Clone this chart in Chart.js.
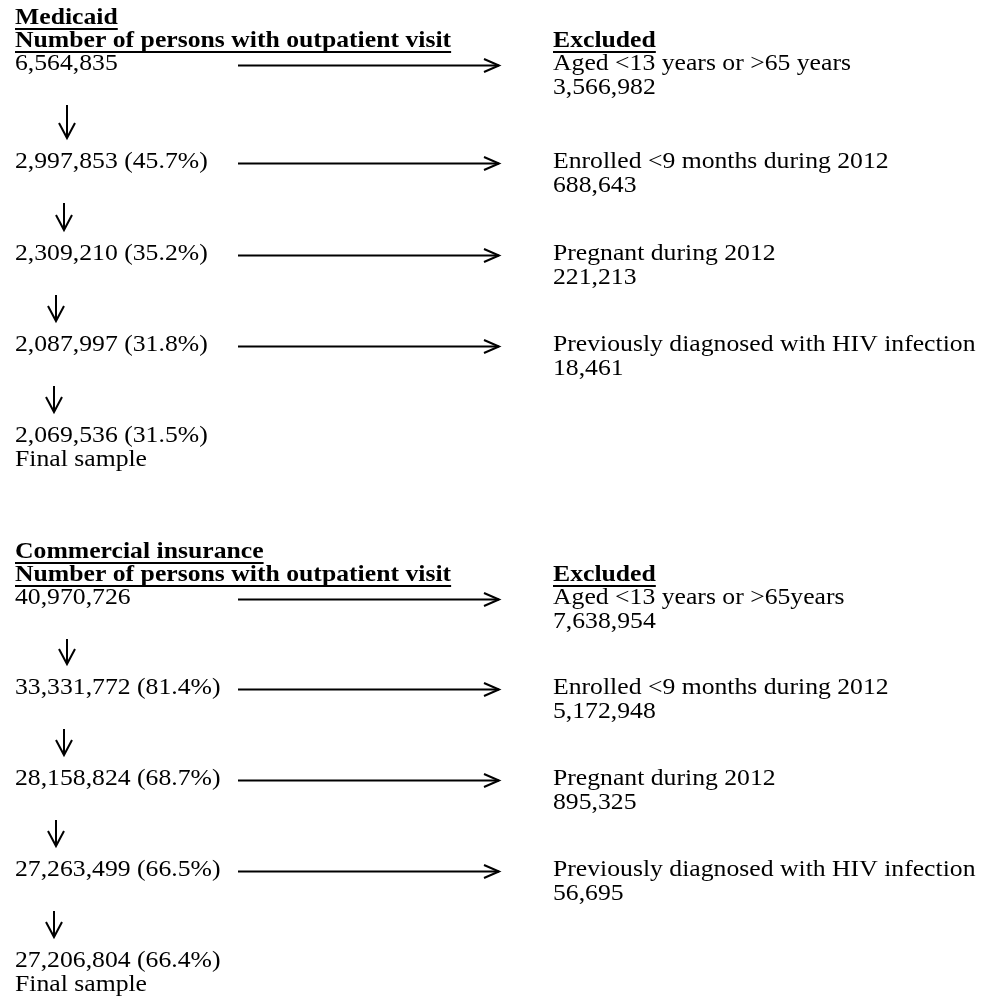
<!DOCTYPE html>
<html>
<head>
<meta charset="utf-8">
<script src="https://cdn.jsdelivr.net/npm/chart.js@4.4.1/dist/chart.umd.min.js"></script>
<style>
  html, body { margin: 0; padding: 0; background: #fff; }
  #wrap { width: 990px; height: 1004px; position: relative; }
</style>
</head>
<body>
<div id="wrap"><canvas id="flow"></canvas></div>
<script>
/************** DATA **************/
const sectionTitles = ["Medicaid", "Commercial insurance"];
const countHeader = "Number of persons with outpatient visit";
const excludedHeader = "Excluded";
const finalLabel = "Final sample";

const medicaidCounts = [6564835, 2997853, 2309210, 2087997, 2069536];
const medicaidPct = [null, 45.7, 35.2, 31.8, 31.5];
const medicaidReasons = [
  "Aged <13 years or >65 years",
  "Enrolled <9 months during 2012",
  "Pregnant during 2012",
  "Previously diagnosed with HIV infection"
];
const medicaidExcluded = [3566982, 688643, 221213, 18461];

const commercialCounts = [40970726, 33331772, 28158824, 27263499, 27206804];
const commercialPct = [null, 81.4, 68.7, 66.5, 66.4];
const commercialReasons = [
  "Aged <13 years or >65years",
  "Enrolled <9 months during 2012",
  "Pregnant during 2012",
  "Previously diagnosed with HIV infection"
];
const commercialExcluded = [7638954, 5172948, 895325, 56695];

/************** LAYOUT **************/
const W = 990, H = 1004;
const FONT = '"Liberation Serif", "Times New Roman", serif';
const SIZE = 22.5;
const STRETCH = 1.142;   // source glyphs are a bit wide
const LINE = 24;
const TEXT_DY = 1.5;
const leftX = 15, rightX = 553;
const arrowX0 = 238, arrowX1 = 499;
const downX = [67, 64, 56, 54];
const sections = [
  { title: 17, rows: [63, 161, 253, 344, 435] },
  { title: 551, rows: [597, 687, 778, 869, 960] }
];

const groups = [
  { counts: medicaidCounts, pct: medicaidPct, reasons: medicaidReasons, excl: medicaidExcluded },
  { counts: commercialCounts, pct: commercialPct, reasons: commercialReasons, excl: commercialExcluded }
];

/************** HELPERS **************/
const fmt = n => n.toLocaleString("en-US");

function lineSet(points) {
  return {
    data: points,
    showLine: true,
    borderColor: "#000",
    borderWidth: 2,
    pointRadius: 0,
    fill: false
  };
}

// arrow shafts and heads as line datasets
const datasets = [];
groups.forEach((g, s) => {
  const rows = sections[s].rows;
  g.excl.forEach((_, i) => {
    const y = rows[i] + 2.5;
    datasets.push(lineSet([{ x: arrowX0, y }, { x: arrowX1, y }]));
    datasets.push(lineSet([{ x: arrowX1 - 15, y: y - 6.5 }, { x: arrowX1, y }, { x: arrowX1 - 15, y: y + 6.5 }]));
  });
  for (let i = 0; i < g.counts.length - 1; i++) {
    const x = downX[i];
    const y0 = rows[i] + 42, y1 = rows[i + 1] - 23;
    datasets.push(lineSet([{ x, y: y0 }, { x, y: y1 }]));
    datasets.push(lineSet([{ x: x - 8, y: y1 - 15 }, { x, y: y1 }, { x: x + 8, y: y1 - 15 }]));
  }
});

/************** TEXT PLUGIN **************/
const textPlugin = {
  id: "flowText",
  afterDatasetsDraw(chart) {
    const { ctx, scales: { x: sx, y: sy } } = chart;
    const put = (str, x, y, bold, underline) => {
      ctx.save();
      ctx.font = (bold ? "bold " : "") + SIZE + "px " + FONT;
      ctx.translate(sx.getPixelForValue(x), sy.getPixelForValue(y + TEXT_DY));
      ctx.scale(STRETCH, 1);
      ctx.fillText(str, 0, 0);
      if (underline) {
        ctx.fillRect(0, 9.5, ctx.measureText(str).width, 2);
      }
      ctx.restore();
    };
    ctx.save();
    ctx.fillStyle = "#000";
    ctx.textBaseline = "middle";
    ctx.textAlign = "left";
    groups.forEach((g, s) => {
      const sec = sections[s];
      put(sectionTitles[s], leftX, sec.title, true, true);
      put(countHeader, leftX, sec.title + 23, true, true);
      put(excludedHeader, rightX, sec.title + 23, true, true);
      g.counts.forEach((c, i) => {
        const label = g.pct[i] == null ? fmt(c) : fmt(c) + " (" + g.pct[i].toFixed(1) + "%)";
        put(label, leftX, sec.rows[i], false, false);
      });
      put(finalLabel, leftX, sec.rows[g.counts.length - 1] + LINE, false, false);
      g.reasons.forEach((r, i) => {
        put(r, rightX, sec.rows[i], false, false);
        put(fmt(g.excl[i]), rightX, sec.rows[i] + LINE, false, false);
      });
    });
    ctx.restore();
  }
};

/************** CHART **************/
new Chart(document.getElementById("flow").getContext("2d"), {
  type: "scatter",
  data: { datasets },
  options: {
    responsive: true,
    maintainAspectRatio: false,
    animation: false,
    events: [],
    layout: { padding: 0 },
    plugins: { legend: { display: false }, tooltip: { enabled: false } },
    scales: {
      x: { type: "linear", min: 0, max: W, display: false },
      y: { type: "linear", min: 0, max: H, reverse: true, display: false }
    }
  },
  plugins: [textPlugin]
});
</script>
</body>
</html>
